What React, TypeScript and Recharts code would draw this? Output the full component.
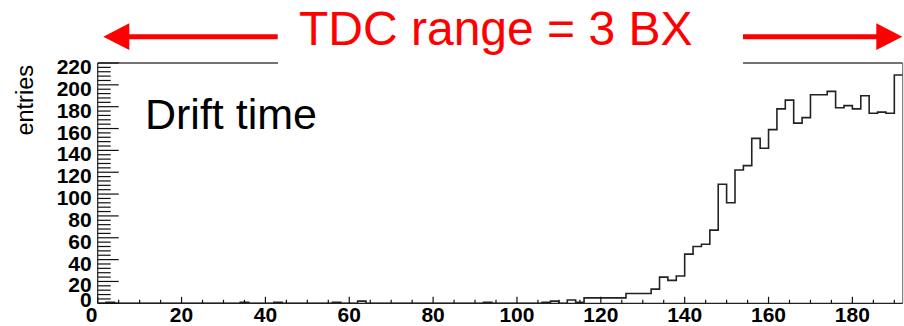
import { LineChart, Line, XAxis, YAxis, ReferenceLine, Label } from "recharts";

const FONT = '"Liberation Sans", Arial, Helvetica, sans-serif';
const RED = "#ff0000";

// TDC histogram: 2-unit bins starting at 0, last bin ends at 192
const BIN_WIDTH = 2;
const X_MAX = 192;
const Y_MAX = 220;

const COUNTS = [
  0, 1, 0, 0, 0, 0, 0, 0, 0, 0, 0, 0, 0, 0, 0, 0,
  0, 1, 0, 0, 0, 1, 0, 0, 0, 0, 0, 0, 1, 0, 0, 2,
  0, 0, 0, 0, 0, 0, 0, 0, 0, 0, 0, 0, 0, 0, 1, 0,
  0, 0, 0, 0, 0, 1, 2, 0, 3, 1, 5, 5, 5, 5, 5, 9,
  9, 9, 13, 24, 21, 25, 45, 52, 54, 67, 109, 92, 122, 126, 151, 142,
  159, 178, 186, 165, 170, 191, 191, 194, 179, 181, 178, 190, 174, 175, 174, 209,
];

const X_LABELS = [0, 20, 40, 60, 80, 100, 120, 140, 160, 180];
const Y_LABELS = [0, 20, 40, 60, 80, 100, 120, 140, 160, 180, 200, 220];
const X_MINOR_STEP = 5;
const Y_MINOR_STEP = 4;

// step line: one point per bin low edge plus the closing edge
const HIST = [
  ...COUNTS.map((n, i) => ({ t: i * BIN_WIDTH, n })),
  { t: X_MAX, n: COUNTS[COUNTS.length - 1] },
];

const xTicks: number[] = [];
for (let v = 0; v < X_MAX; v += X_MINOR_STEP) xTicks.push(v);
const yTicks: number[] = [];
for (let v = 0; v <= Y_MAX; v += Y_MINOR_STEP) yTicks.push(v);

function XTick(props: any) {
  const { x, y, payload } = props;
  const v = payload.value;
  const major = X_LABELS.includes(v);
  return (
    <g>
      <line x1={x} x2={x} y1={y} y2={y - (major ? 6.5 : 3.5)} stroke="#111" strokeWidth={1.2} />
      {major && (
        <text
          x={v === 0 ? x - 6 : x}
          y={y + 18.7}
          textAnchor="middle"
          fontFamily={FONT}
          fontWeight="bold"
          fontSize={21}
          fill="#000"
        >
          {v}
        </text>
      )}
    </g>
  );
}

function YTick(props: any) {
  const { x, y, payload } = props;
  const v = payload.value;
  const major = Y_LABELS.includes(v);
  return (
    <g>
      <line x1={x} x2={x + (major ? 21 : 13)} y1={y} y2={y} stroke="#111" strokeWidth={1.2} />
      {major && (
        <text
          x={x - 6}
          y={y + (v === 0 ? 3.8 : 11)}
          textAnchor="end"
          fontFamily={FONT}
          fontWeight="bold"
          fontSize={21}
          fill="#000"
        >
          {v}
        </text>
      )}
    </g>
  );
}

export default function App() {
  return (
    <div
      style={{
        position: "fixed",
        left: 0,
        top: 0,
        width: 904,
        height: 326,
        background: "#fff",
      }}
    >
      <LineChart
        width={904}
        height={326}
        data={HIST}
        margin={{ top: 63, right: 1.3, bottom: 0, left: 0 }}
      >
        <XAxis
          dataKey="t"
          type="number"
          domain={[0, X_MAX]}
          ticks={xTicks}
          interval={0}
          tickSize={0}
          tickMargin={0}
          tickLine={false}
          tick={(p: any) => <XTick {...p} />}
          axisLine={{ stroke: "#222", strokeWidth: 1.2 }}
          height={22.7}
          allowDataOverflow
        />
        <YAxis
          type="number"
          domain={[0, Y_MAX]}
          ticks={yTicks}
          interval={0}
          tickSize={0}
          tickMargin={0}
          tickLine={false}
          tick={(p: any) => <YTick {...p} />}
          axisLine={{ stroke: "#222", strokeWidth: 1.2 }}
          width={97.7}
          allowDataOverflow
        >
          <Label
            content={() => (
              <text
                x={32.5}
                y={65}
                transform="rotate(-90 32.5 65)"
                textAnchor="end"
                fontFamily={FONT}
                fontSize={23.5}
                fill="#000"
              >
                entries
              </text>
            )}
          />
        </YAxis>
        {/* frame */}
        <ReferenceLine y={Y_MAX} stroke="#444" strokeWidth={1.4} />
        <ReferenceLine x={X_MAX} stroke="#666" strokeWidth={1} />
        <Line
          type="stepAfter"
          dataKey="n"
          stroke="#222"
          strokeWidth={1.6}
          dot={false}
          activeDot={false}
          isAnimationActive={false}
        />
      </LineChart>

      <svg
        width={904}
        height={326}
        style={{ position: "absolute", left: 0, top: 0, pointerEvents: "none" }}
      >
        {/* text box over the top of the frame */}
        <rect x={278} y={0} width={465} height={70} fill="#fff" />
        <text x={299} y={45} fontFamily={FONT} fontSize={48} fill={RED}>
          TDC range = 3 BX
        </text>
        {/* left arrow */}
        <line x1={128} x2={277.7} y1={36.7} y2={36.7} stroke={RED} strokeWidth={5} />
        <polygon points="103.3,36.7 129.3,23.3 129.3,49.9" fill={RED} />
        {/* right arrow */}
        <line x1={743} x2={877} y1={36.7} y2={36.7} stroke={RED} strokeWidth={5} />
        <polygon points="902.3,36.7 876.3,23.3 876.3,49.9" fill={RED} />
        <text x={145} y={128.5} fontFamily={FONT} fontSize={43} fill="#000">
          Drift time
        </text>
      </svg>
    </div>
  );
}
